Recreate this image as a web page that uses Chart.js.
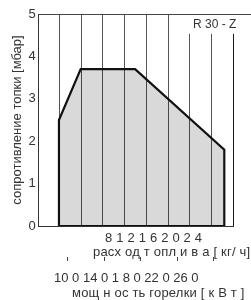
<!DOCTYPE html>
<html>
<head>
<meta charset="utf-8">
<script src="https://cdn.jsdelivr.net/npm/chart.js@4.4.0/dist/chart.umd.min.js"></script>
<style>
    html, body { margin: 0; padding: 0; background: #fff; }
</style>
</head>
<body>
<canvas id="chart" width="251" height="300"></canvas>
<script>
// Data
const fuelGrid = [8, 10, 12, 14, 16, 18, 20, 22, 24];    // kg/h, vertical lines
const fuelLabels = ['8', '12', '16', '20', '24'];
const kwTicks = [100, 140, 180, 220, 260];
const kwLabels = ['10 0', '14 0', '1 8 0', '22 0', '26 0'];
const areaX = [8, 8, 10, 15, 23.2, 23.2];                  // kg/h
const areaY = [0, 2.5, 3.7, 3.7, 1.8, 0];                  // mbar
const modelName = 'R 30 - Z';

const FONT = 'Liberation Sans, Arial, sans-serif';
const TEXT = '#333';
const kwToFuel = kw => (kw + 4) / 11.9;

// Drawing helpers
const gridPlugin = {
    id: 'grid',
    beforeDatasetsDraw: chart => {
        const { ctx, chartArea, scales } = chart;
        const yShort = scales.y.getPixelForValue(4.53);
        ctx.save();
        ctx.lineWidth = 1;
        fuelGrid.forEach(v => {
            const x = Math.round(scales.x.getPixelForValue(v)) + 0.5;
            ctx.strokeStyle = v === 24 ? '#1a1a1a' : '#555';
            ctx.beginPath();
            ctx.moveTo(x, v >= 20 ? yShort : chartArea.top);
            ctx.lineTo(x, chartArea.bottom);
            ctx.stroke();
        });
        // top border runs out to the edge
        ctx.strokeStyle = '#444';
        ctx.beginPath();
        ctx.moveTo(chartArea.left, Math.round(chartArea.top) + 0.5);
        ctx.lineTo(chart.width, Math.round(chartArea.top) + 0.5);
        ctx.stroke();
        ctx.restore();
    },
    afterDraw: chart => {
        const { ctx, chartArea, scales } = chart;
        const b = chartArea.bottom;
        ctx.save();
        ctx.fillStyle = TEXT;
        ctx.textBaseline = 'middle';
        ctx.textAlign = 'left';

        // model name
        ctx.font = '12px ' + FONT;
        ctx.fillText(modelName, chartArea.right - 40, chartArea.top + 11);

        // fuel axis
        ctx.font = '13px ' + FONT;
        ctx.letterSpacing = '4px';
        ctx.fillText(fuelLabels.join(''), 105, b + 12);
        ctx.letterSpacing = '0.2px';
        ctx.fillText('расх од т опл и в а [ кг/ ч]', 93, b + 26);

        // kW ticks
        ctx.strokeStyle = '#444';
        ctx.lineWidth = 1;
        kwTicks.forEach(kw => {
            const x = Math.round(scales.x.getPixelForValue(kwToFuel(kw))) + 0.5;
            ctx.beginPath();
            ctx.moveTo(x, b + 31);
            ctx.lineTo(x, b + 35);
            ctx.stroke();
        });
        ctx.letterSpacing = '0px';
        ctx.fillText(kwLabels.join(' '), 54, b + 52);
        ctx.letterSpacing = '0.2px';
        ctx.fillText('мощ н ос ть горелки [ к В т ]', 72, b + 67);
        ctx.restore();
    }
};

const ctx = document.getElementById('chart');
new Chart(ctx, {
    type: 'scatter',
    data: {
        datasets: [{
            data: areaX.map((x, i) => ({ x: x, y: areaY[i] })),
            showLine: true,
            fill: 'origin',
            backgroundColor: 'rgba(0, 0, 0, 0.15)',
            borderColor: '#111',
            borderWidth: 2.2,
            pointRadius: 0,
            tension: 0
        }, {
            // bottom edge of the working field
            data: [{ x: areaX[0], y: areaY[0] }, { x: areaX[areaX.length - 1], y: areaY[areaY.length - 1] }],
            showLine: true,
            fill: false,
            borderColor: '#111',
            borderWidth: 2.2,
            pointRadius: 0
        }]
    },
    options: {
        responsive: false,
        animation: false,
        layout: { padding: { left: 10, top: 14, right: 18, bottom: 74 } },
        plugins: {
            legend: { display: false },
            tooltip: { enabled: false }
        },
        scales: {
            x: {
                type: 'linear',
                min: 6.15,
                max: 24,
                grid: { display: false, drawTicks: false },
                ticks: { display: false },
                border: { color: '#333' }
            },
            y: {
                min: 0,
                max: 5,
                ticks: { stepSize: 1, color: TEXT, font: { size: 13, family: FONT }, padding: 3 },
                grid: { display: false, drawTicks: false },
                border: { color: '#333' },
                title: {
                    display: true,
                    text: 'сопротивление топки [мбар]',
                    color: TEXT,
                    font: { size: 13, family: FONT },
                    padding: { top: 0, bottom: 0 }
                }
            }
        }
    },
    plugins: [gridPlugin]
});
</script>
</body>
</html>
